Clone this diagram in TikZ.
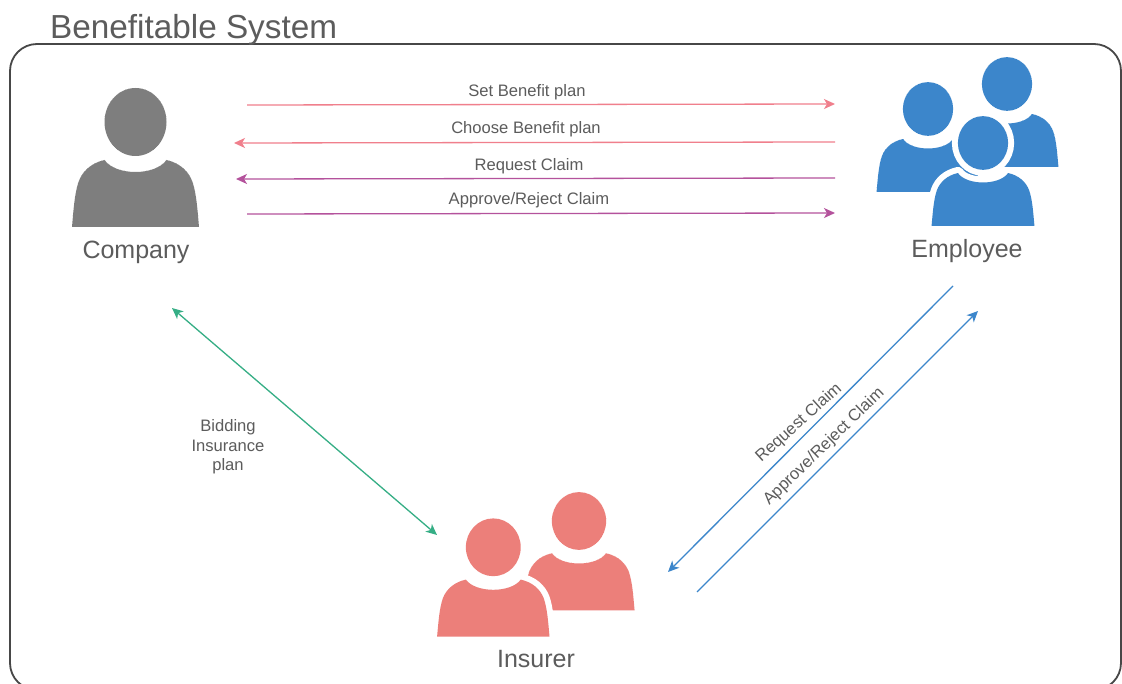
\documentclass[tikz,border=0pt]{standalone}
\usepackage{fontspec}
\setmainfont{Liberation Sans}
\usetikzlibrary{arrows.meta}
\definecolor{pinkc}{HTML}{F07F8C}
\definecolor{purpc}{HTML}{B4529C}
\definecolor{greenc}{HTML}{35AE85}
\definecolor{bluec}{HTML}{3C86CB}
\definecolor{grayc}{HTML}{7E7E7E}
\definecolor{salmonc}{HTML}{EC7F7A}
\definecolor{txtc}{HTML}{5C5C5C}
\tikzset{
  frameline/.style={draw=black!72,line width=1.8pt,rounded corners=27pt},
  flow/.style={line width=1.3pt,-{Stealth[length=11pt,width=10pt,inset=3pt]}},
  twoway/.style={line width=1.3pt,{Stealth[length=11pt,width=10pt,inset=3pt]}-{Stealth[length=11pt,width=10pt,inset=3pt]}},
  small/.style={text=txtc,font=\fontsize{16.6}{19.5}\selectfont,align=center,inner sep=0pt},
  big/.style={text=txtc,font=\fontsize{25}{29}\selectfont,inner sep=0pt},
  title/.style={text=txtc,font=\fontsize{33.3}{38}\selectfont,inner sep=0pt}
}
% head centre x, head centre y, x scale, y scale, colour, halo width
\newcommand{\bust}[6]{%
  \begin{scope}[shift={(#1,#2)},xscale=#3,yscale=#4]
    \path[draw=white,line width=#6,fill=#5] (0,0) ellipse [x radius=31,y radius=34];
    \path[draw=white,line width=#6,fill=#5,line join=round]
      (-63.5,105) .. controls (-62,88) and (-61,72) .. (-57,60)
      .. controls (-53,49) and (-44,41) .. (-31,38)
      .. controls (-20,54) and (20,54) .. (31,38)
      .. controls (44,41) and (53,49) .. (57,60)
      .. controls (61,72) and (62,88) .. (63.5,105) -- cycle;
    \path[fill=#5] (0,0) ellipse [x radius=31,y radius=34];
    \path[fill=#5]
      (-63.5,105) .. controls (-62,88) and (-61,72) .. (-57,60)
      .. controls (-53,49) and (-44,41) .. (-31,38)
      .. controls (-20,54) and (20,54) .. (31,38)
      .. controls (44,41) and (53,49) .. (57,60)
      .. controls (61,72) and (62,88) .. (63.5,105) -- cycle;
  \end{scope}}
\begin{document}
\begin{tikzpicture}[x=1pt,y=-1pt]
\useasboundingbox (0,0) rectangle (1122,684);
\begin{scope}
\clip (0,0) rectangle (1122,684);
\path[fill=white] (0,0) rectangle (1122,684);
\path[frameline] (10,690) rectangle (1121,44);
% Company
\bust{135.5}{122}{1}{1}{grayc}{0pt}
% Employee
\bust{1007}{84}{.81}{.79}{bluec}{0pt}
\bust{928}{109}{.81}{.79}{bluec}{0pt}
\bust{983}{143}{.81}{.79}{bluec}{12pt}
% Insurer
\bust{579}{521}{.875}{.85}{salmonc}{0pt}
\bust{493.3}{547.3}{.885}{.85}{salmonc}{12pt}
\end{scope}
\node[title,anchor=west] (title) at (50,30) {Benefitable System};
\node[big] (company) at (136,252) {Company};
\node[big] (employee) at (967,251) {Employee};
\node[big] (insurer) at (536,659) {Insurer};
% connector ends
\coordinate (c1) at (247,105); \coordinate (e1) at (835,104);
\coordinate (e2) at (835,142); \coordinate (c2) at (234,143);
\coordinate (e3) at (835,178); \coordinate (c3) at (236,179);
\coordinate (c4) at (247,214); \coordinate (e4) at (835,213);
\coordinate (cg) at (172,308); \coordinate (ig) at (437,535);
\coordinate (eb1) at (953,286); \coordinate (ib1) at (668,572);
\coordinate (ib2) at (697,592); \coordinate (eb2) at (978,311);
\draw[flow,pinkc] (c1) -- (e1);
\draw[flow,pinkc] (e2) -- (c2);
\draw[flow,purpc] (e3) -- (c3);
\draw[flow,purpc] (c4) -- (e4);
\draw[twoway,greenc] (cg) -- (ig);
\draw[flow,bluec] (eb1) -- (ib1);
\draw[flow,bluec] (ib2) -- (eb2);
\node[small] (l1) at (527,92) {Set Benefit plan};
\node[small] (l2) at (526,129) {Choose Benefit plan};
\node[small] (l3) at (529,166) {Request Claim};
\node[small] (l4) at (529,200) {Approve/Reject Claim};
\node[small] (l5) at (228,447) {Bidding\\Insurance\\plan};
\node[small,rotate=42] (l6) at (799,423) {Request Claim};
\node[small,rotate=44] (l7) at (824,447) {Approve/Reject Claim};
\end{tikzpicture}
\end{document}
